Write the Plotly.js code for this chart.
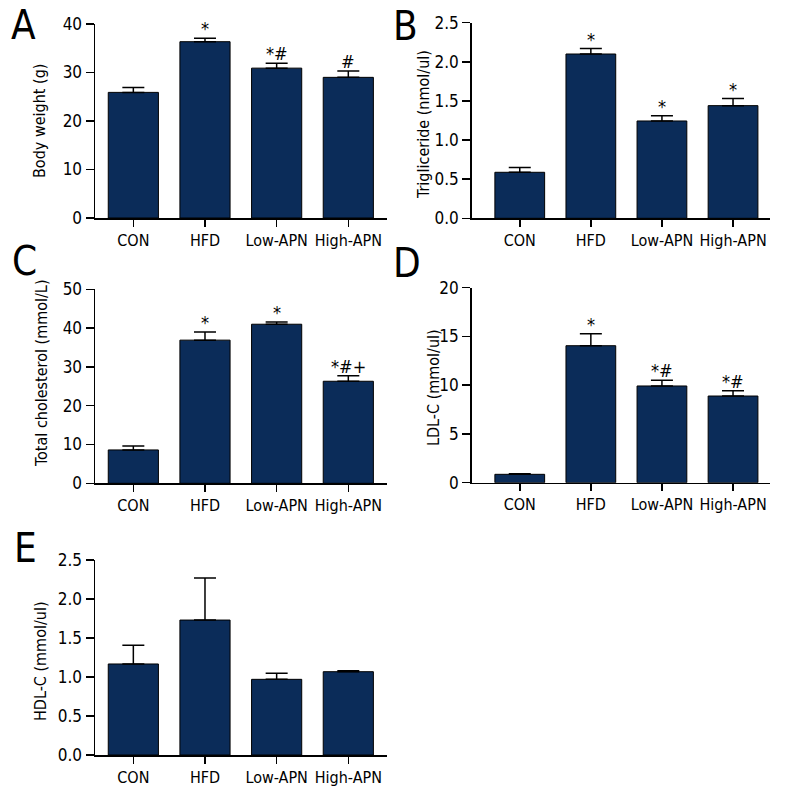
<!DOCTYPE html>
<html><head><meta charset="utf-8">
<script src="https://cdn.plot.ly/plotly-3.0.1.min.js"></script>
<style>html,body{margin:0;padding:0;background:#fff}#chart{width:800px;height:800px}</style>
</head><body><div id="chart"></div>
<script>
const categories = ["CON", "HFD", "Low-APN", "High-APN"];

const bodyWeight = [25.9, 36.35, 30.9, 29.0];
const bodyWeightErr = [1.0, 0.7, 1.0, 1.3];
const bodyWeightMarks = ["", "*", "*#", "#"];

const triglyceride = [0.588, 2.10, 1.244, 1.44];
const triglycerideErr = [0.06, 0.07, 0.068, 0.09];
const triglycerideMarks = ["", "*", "*", "*"];

const totalChol = [8.6, 36.9, 41.0, 26.3];
const totalCholErr = [1.0, 2.1, 0.6, 1.45];
const totalCholMarks = ["", "*", "*", "*#+"];

const ldl = [0.86, 14.05, 9.92, 8.89];
const ldlErr = [0.07, 1.23, 0.58, 0.55];
const ldlMarks = ["", "*", "*#", "*#"];

const hdl = [1.167, 1.73, 0.97, 1.068];
const hdlErr = [0.24, 0.54, 0.077, 0.013];
const hdlMarks = ["", "", "", ""];

const FONT = "DejaVu Sans Condensed, Liberation Sans, sans-serif";
const BAR = "#0b2c59";

const panels = [
  {vals: bodyWeight, err: bodyWeightErr, marks: bodyWeightMarks, title: "Body weight (g)", label: "A",
   xd: [95, 387], yd: [218, 24], yr: [0, 40], dt: 10, fmt: "", xr: [-0.535, 3.54],
   tx: 39, ty: 121, lx: 23, ly: 25},
  {vals: triglyceride, err: triglycerideErr, marks: triglycerideMarks, title: "Trigliceride (nmol/ul)", label: "B",
   xd: [471.7, 770], yd: [218.3, 22.7], yr: [0, 2.5], dt: 0.5, fmt: ".1f", xr: [-0.676, 3.52],
   tx: 423, ty: 125, lx: 406, ly: 26},
  {vals: totalChol, err: totalCholErr, marks: totalCholMarks, title: "Total cholesterol (mmol/L)", label: "C",
   xd: [95, 387], yd: [483.3, 289.3], yr: [0, 50], dt: 10, fmt: "", xr: [-0.535, 3.54],
   tx: 41, ty: 373, lx: 24, ly: 261},
  {vals: ldl, err: ldlErr, marks: ldlMarks, title: "LDL-C (mmol/ul)", label: "D",
   xd: [471.7, 770], yd: [482.7, 287.7], yr: [0, 20], dt: 5, fmt: "", xr: [-0.676, 3.52],
   tx: 433, ty: 388, lx: 407, ly: 263},
  {vals: hdl, err: hdlErr, marks: hdlMarks, title: "HDL-C (mmol/ul)", label: "E",
   xd: [95, 387], yd: [755, 560], yr: [0, 2.5], dt: 0.5, fmt: ".1f", xr: [-0.535, 3.54],
   tx: 40, ty: 661, lx: 25, ly: 548}
];

const data = [];
const layout = {
  width: 800, height: 800,
  margin: {l: 0, r: 0, t: 0, b: 0},
  paper_bgcolor: "#ffffff", plot_bgcolor: "#ffffff",
  showlegend: false,
  font: {family: FONT, size: 16, color: "#000"},
  annotations: []
};

panels.forEach((p, i) => {
  const n = i === 0 ? "" : String(i + 1);
  const xa = "x" + n, ya = "y" + n;
  data.push({
    type: "bar", x: categories, y: p.vals, xaxis: xa, yaxis: ya,
    width: 0.7,
    marker: {color: BAR, line: {color: "#000", width: 1}},
    error_y: {type: "data", array: p.err, arrayminus: p.err.map(() => 0), symmetric: false,
              color: "#000", thickness: 1.5, width: 11},
    hoverinfo: "skip"
  });
  layout["xaxis" + n] = {
    domain: [p.xd[0] / 800, p.xd[1] / 800], anchor: ya,
    type: "category", range: p.xr, fixedrange: true, tickangle: 0,
    showline: true, linecolor: "#000", linewidth: 1.5, mirror: false,
    ticks: "outside", ticklen: 7, tickwidth: 1.5, tickcolor: "#000",
    showgrid: false, zeroline: false, automargin: false,
    tickfont: {family: FONT, size: 16, color: "#000"}
  };
  layout["yaxis" + n] = {
    domain: [1 - p.yd[0] / 800, 1 - p.yd[1] / 800], anchor: xa,
    range: p.yr, fixedrange: true, dtick: p.dt, tick0: 0, tickformat: p.fmt,
    showline: true, linecolor: "#000", linewidth: 1.5, automargin: false,
    ticks: "outside", ticklen: 8, tickwidth: 1.5, tickcolor: "#000",
    showgrid: false, zeroline: false,
    tickfont: {family: FONT, size: 17, color: "#000"}
  };
  layout.annotations.push({
    xref: "paper", yref: "paper", x: p.tx / 800, y: 1 - p.ty / 800,
    xanchor: "center", yanchor: "middle", textangle: -90, showarrow: false,
    text: p.title, font: {family: FONT, size: 16, color: "#000"}
  });
  layout.annotations.push({
    xref: "paper", yref: "paper", x: p.lx / 800, y: 1 - p.ly / 800,
    xanchor: "center", yanchor: "middle", showarrow: false,
    text: p.label, font: {family: FONT, size: 40, color: "#000"}
  });
  p.marks.forEach((m, k) => {
    if (!m) return;
    layout.annotations.push({
      xref: xa, yref: ya, x: categories[k], y: p.vals[k] + p.err[k],
      xanchor: "center", yanchor: "bottom", showarrow: false, yshift: -3,
      text: m, font: {family: FONT, size: 18, color: "#000"}
    });
  });
});

Plotly.newPlot("chart", data, layout, {staticPlot: true, displayModeBar: false});
</script>
</body></html>
